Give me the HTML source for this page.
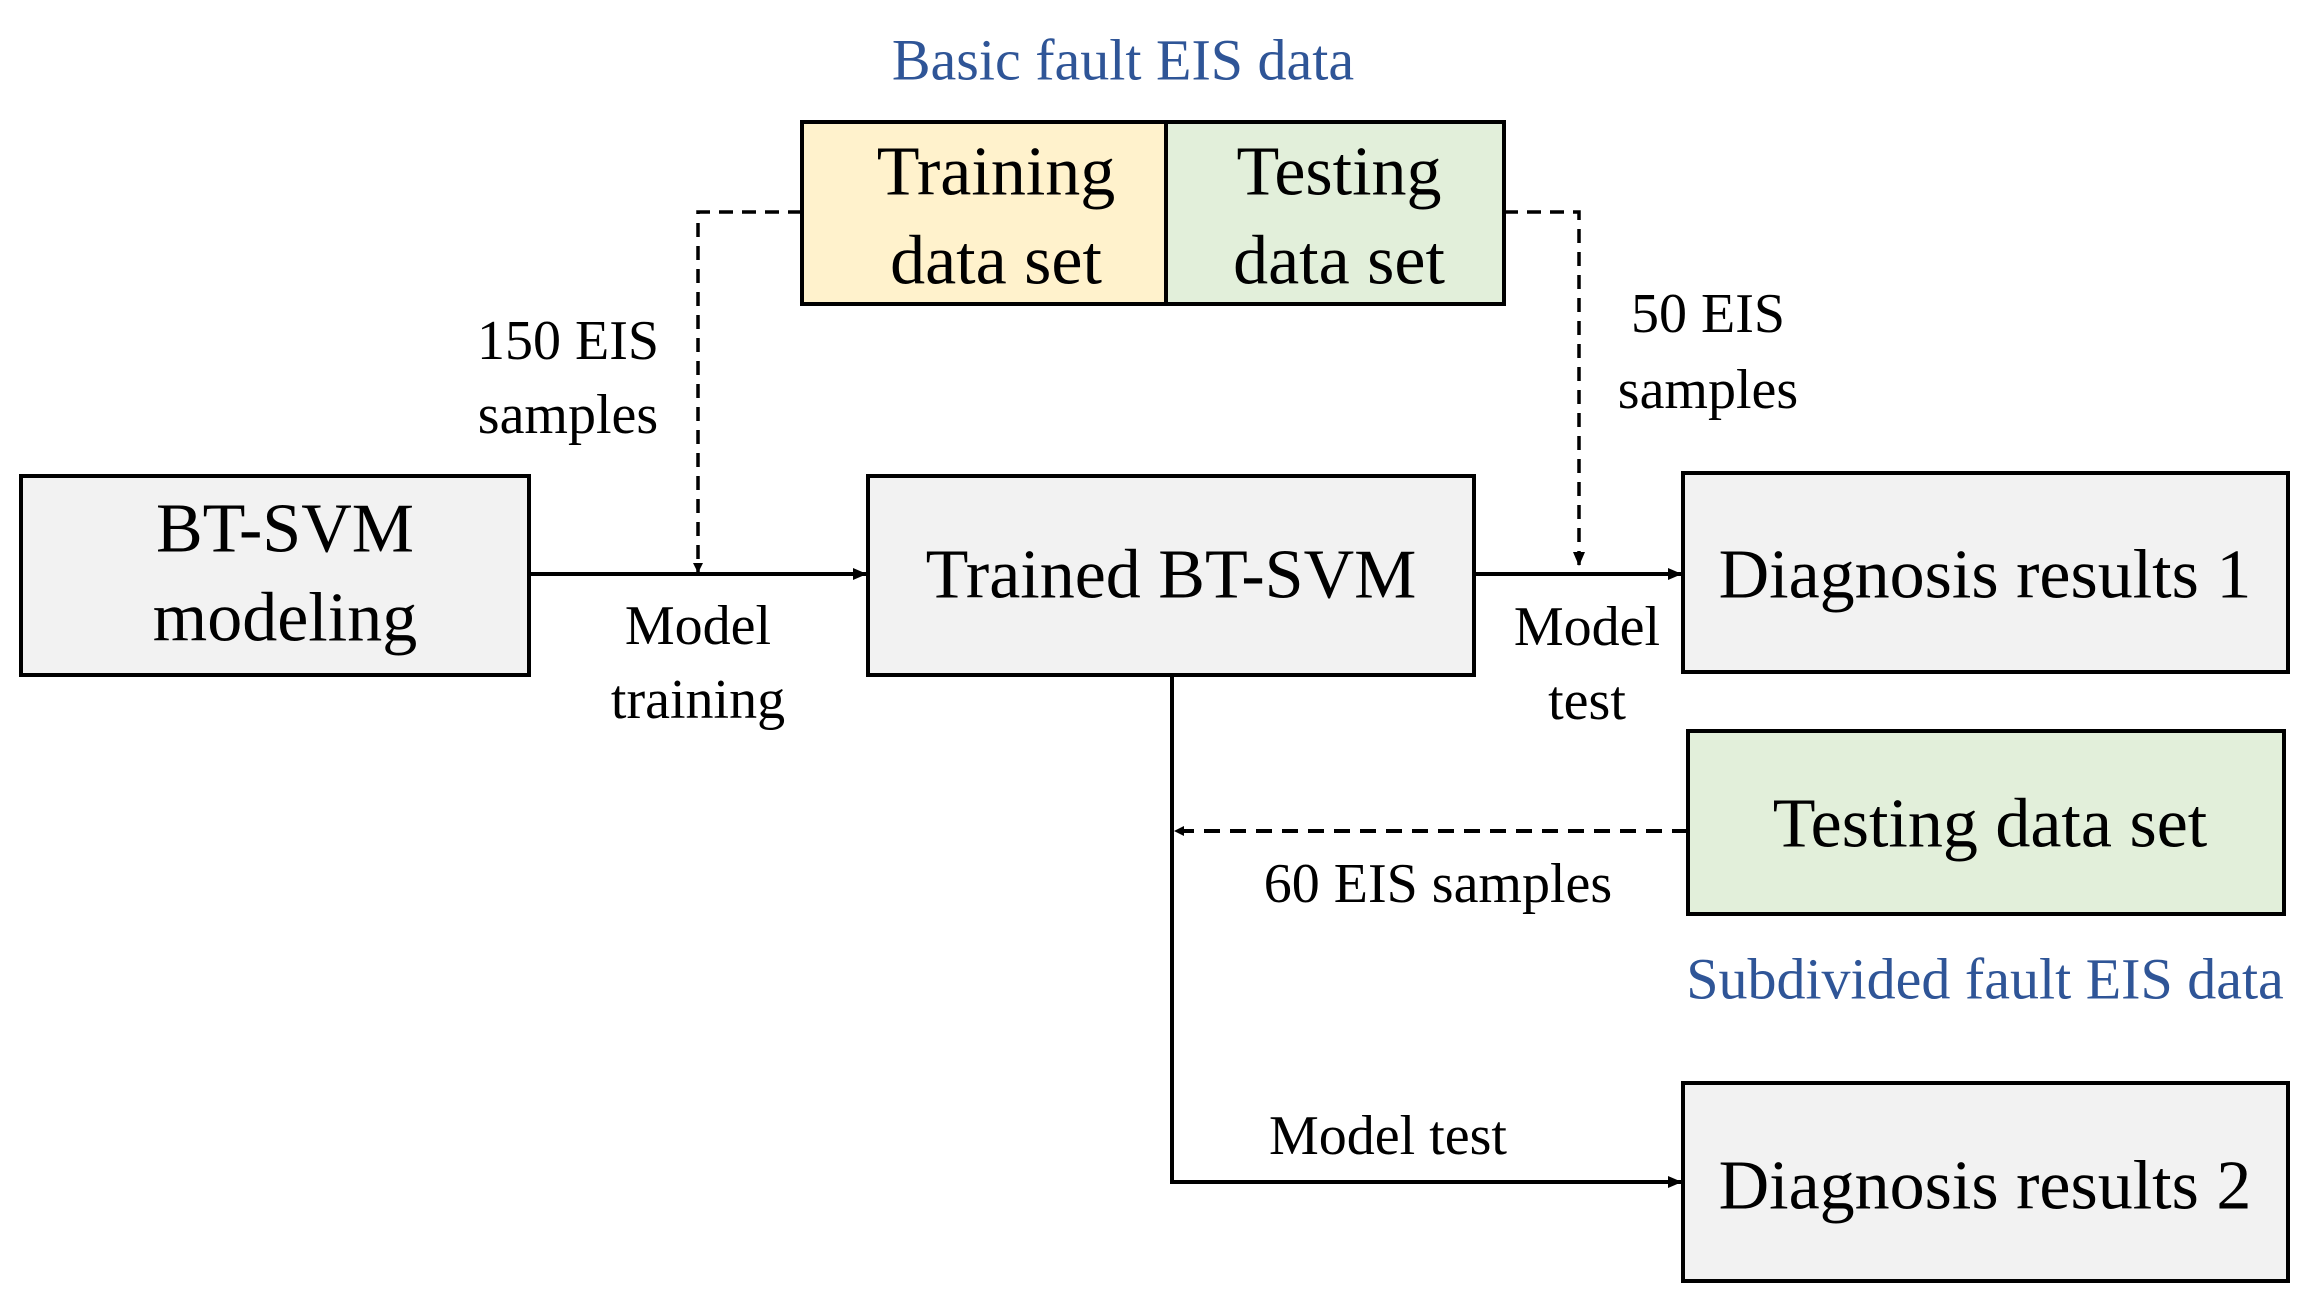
<!DOCTYPE html>
<html><head><meta charset="utf-8"><style>
html,body{margin:0;padding:0;background:#fff;}
svg{display:block;}
text{font-family:"Times New Roman","Liberation Serif",serif;fill:#000;text-anchor:middle;dominant-baseline:central;}
.b{font-size:70px;}
.s{font-size:56px;}
.blue{fill:#2f5597;font-size:58px;}
</style></head><body>
<svg width="2313" height="1309" viewBox="0 0 2313 1309" xmlns="http://www.w3.org/2000/svg">
<defs>
<marker id="ar" markerWidth="10" markerHeight="10" refX="9" refY="5" orient="auto" markerUnits="userSpaceOnUse">
<path d="M0,0 L10,5 L0,10 z" fill="#000"/>
</marker>
<marker id="ar2" markerWidth="14" markerHeight="14" refX="13" refY="7" orient="auto" markerUnits="userSpaceOnUse">
<path d="M0,1 L14,7 L0,13 z" fill="#000"/>
</marker>
</defs>
<rect x="21" y="476" width="508" height="199" fill="#f2f2f2" stroke="#000" stroke-width="4"/>
<rect x="868" y="476" width="606" height="199" fill="#f2f2f2" stroke="#000" stroke-width="4"/>
<rect x="1683" y="473" width="605" height="199" fill="#f2f2f2" stroke="#000" stroke-width="4"/>
<rect x="802" y="122" width="364" height="182" fill="#fff2cc" stroke="#000" stroke-width="4"/>
<rect x="1166" y="122" width="338" height="182" fill="#e2efda" stroke="#000" stroke-width="4"/>
<rect x="1688" y="731" width="596" height="183" fill="#e2efda" stroke="#000" stroke-width="4"/>
<rect x="1683" y="1083" width="605" height="198" fill="#f2f2f2" stroke="#000" stroke-width="4"/>
<line x1="529" y1="574" x2="866" y2="574" stroke="#000" stroke-width="4" marker-end="url(#ar2)"/>
<line x1="1474" y1="574" x2="1681" y2="574" stroke="#000" stroke-width="4" marker-end="url(#ar2)"/>
<polyline points="802,212 698,212 698,572" fill="none" stroke="#000" stroke-width="3.5" stroke-dasharray="14,9" marker-end="url(#ar)"/>
<polyline points="1504,212 1579,212 1579,565" fill="none" stroke="#000" stroke-width="3.5" stroke-dasharray="14,9" marker-end="url(#ar2)"/>
<polyline points="1172,675 1172,1182 1681,1182" fill="none" stroke="#000" stroke-width="4" marker-end="url(#ar2)"/>
<line x1="1688" y1="831" x2="1175" y2="831" stroke="#000" stroke-width="4" stroke-dasharray="16,10" marker-end="url(#ar)"/>
<text class="b" x="285" y="529">BT-SVM</text>
<text class="b" x="285" y="618">modeling</text>
<text class="b" x="1171" y="575">Trained BT-SVM</text>
<text class="b" x="1985" y="575">Diagnosis results 1</text>
<text class="b" x="996" y="172">Training</text>
<text class="b" x="996" y="261">data set</text>
<text class="b" x="1339" y="172">Testing</text>
<text class="b" x="1339" y="261">data set</text>
<text class="b" x="1990" y="824">Testing data set</text>
<text class="b" x="1985" y="1186">Diagnosis results 2</text>
<text class="blue" x="1123" y="60">Basic fault EIS data</text>
<text class="blue" x="1985" y="979">Subdivided fault EIS data</text>
<text class="s" x="568" y="341">150 EIS</text>
<text class="s" x="568" y="415">samples</text>
<text class="s" x="698" y="626">Model</text>
<text class="s" x="698" y="700">training</text>
<text class="s" x="1708" y="314">50 EIS</text>
<text class="s" x="1708" y="390">samples</text>
<text class="s" x="1587" y="627">Model</text>
<text class="s" x="1587" y="701">test</text>
<text class="s" x="1438" y="884">60 EIS samples</text>
<text class="s" x="1388" y="1136">Model test</text>
</svg>
</body></html>
